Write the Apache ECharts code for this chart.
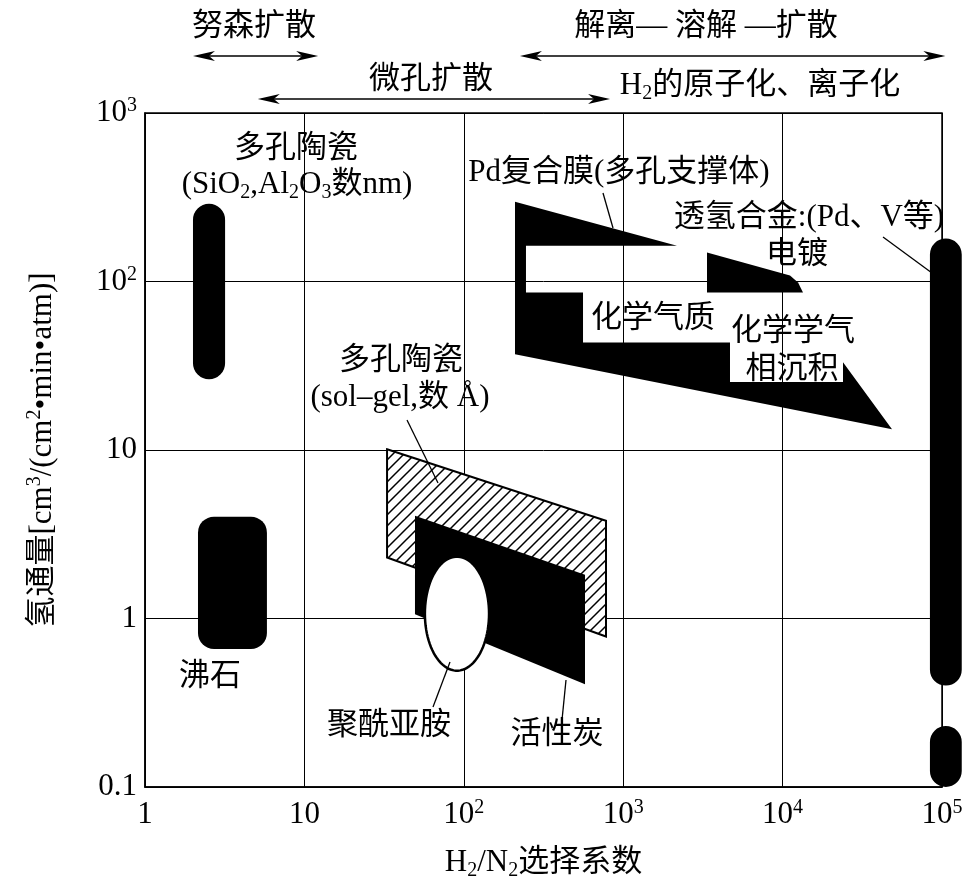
<!DOCTYPE html>
<html lang="zh">
<head>
<meta charset="UTF-8">
<title>H2/N2选择系数与氢通量</title>
<script src="https://cdn.jsdelivr.net/npm/echarts@6/dist/echarts.min.js"></script>
<style>
    html, body { margin: 0; padding: 0; background: #fff; }
    #chart { width: 979px; height: 886px; }
</style>
</head>
<body>
<div id="chart"></div>
<script>
// 坐标轴范围
const xTicks = [1, 10, 100, 1000, 10000, 100000];
const yTicks = [0.1, 1, 10, 100, 1000];

// 圆角块 [xMin, xMax, yMin, yMax]
const sio2Ceramic = [2.0, 3.18, 26.3, 289];
const zeolite = [2.15, 5.82, 0.66, 4.02];
const alloyMain = [84000, 133000, 0.40, 180];
const alloyLow = [84000, 133000, 0.1, 0.23];

// Pd复合膜 / 化学气相沉积 (带空白标签区的多边形)
const pdCompositeX = [209.5, 2175, 245.5, 245.5, 559.6, 559.6, 4677, 4677, 23930, 23930, 48570, 209.5];
const pdCompositeY = [297, 163, 163, 86, 86, 43.5, 43.5, 25.3, 25.3, 33.2, 13.3, 37.0];
// 电镀
const platingX = [3356, 11130, 12500, 13430, 3356];
const platingY = [148.5, 108.5, 98.6, 86, 86];
// 多孔陶瓷 sol-gel
const solGelX = [33.0, 780, 780, 33.0];
const solGelY = [10.1, 3.80, 0.782, 2.30];
// 活性炭
const carbonX = [49.4, 576, 576, 49.4];
const carbonY = [4.07, 1.82, 0.407, 1.06];
// 聚酰亚胺 (椭圆外框) [xMin, xMax, yMin, yMax]
const polyimide = [57, 144, 0.49, 2.33];

// 扩散机理范围 [xFrom, xTo]
const knudsenRange = [2.0, 12.2];
const microporeRange = [5.1, 827];
const solutionRange = [225, 105000];

const serif = '"Liberation Serif", "Noto Sans CJK SC", serif';

// 斜线填充
const hatch = document.createElement('canvas');
hatch.width = 11;
hatch.height = 11;
(function () {
    const ctx = hatch.getContext('2d');
    ctx.fillStyle = '#fff';
    ctx.fillRect(0, 0, 11, 11);
    ctx.strokeStyle = '#000';
    ctx.lineWidth = 1.5;
    ctx.beginPath();
    ctx.moveTo(0, 11); ctx.lineTo(11, 0);
    ctx.moveTo(-5.5, 5.5); ctx.lineTo(5.5, -5.5);
    ctx.moveTo(5.5, 16.5); ctx.lineTo(16.5, 5.5);
    ctx.stroke();
})();

const shapes = [
    { kind: 'box', box: sio2Ceramic, r: 'capsule' },
    { kind: 'box', box: zeolite, r: 16 },
    { kind: 'box', box: alloyMain, r: 'capsule' },
    { kind: 'box', box: alloyLow, r: 'capsule' },
    { kind: 'poly', xs: pdCompositeX, ys: pdCompositeY },
    { kind: 'poly', xs: platingX, ys: platingY },
    { kind: 'poly', xs: solGelX, ys: solGelY, hatch: true },
    { kind: 'poly', xs: carbonX, ys: carbonY },
    { kind: 'ellipse', box: polyimide }
];

function renderShape(params, api) {
    const s = shapes[api.value(2)];
    if (s.kind === 'box') {
        const p1 = api.coord([s.box[0], s.box[3]]);
        const p2 = api.coord([s.box[1], s.box[2]]);
        const w = p2[0] - p1[0];
        const h = p2[1] - p1[1];
        return {
            type: 'rect',
            shape: { x: p1[0], y: p1[1], width: w, height: h, r: s.r === 'capsule' ? w / 2 : s.r },
            style: { fill: '#000' }
        };
    }
    if (s.kind === 'poly') {
        const pts = s.xs.map((x, i) => api.coord([x, s.ys[i]]));
        return {
            type: 'polygon',
            shape: { points: pts },
            style: s.hatch
                ? { fill: { image: hatch, repeat: 'repeat' }, stroke: '#000', lineWidth: 2 }
                : { fill: '#000' }
        };
    }
    // 椭圆
    const a = api.coord([s.box[0], s.box[3]]);
    const b = api.coord([s.box[1], s.box[2]]);
    const cx = (a[0] + b[0]) / 2, cy = (a[1] + b[1]) / 2;
    const rx = (b[0] - a[0]) / 2, ry = (b[1] - a[1]) / 2;
    const pts = [];
    for (let i = 0; i < 90; i++) {
        const t = i / 90 * Math.PI * 2;
        pts.push([cx + rx * Math.cos(t), cy + ry * Math.sin(t)]);
    }
    return {
        type: 'polygon',
        shape: { points: pts },
        style: { fill: '#fff', stroke: '#000', lineWidth: 2.5 }
    };
}

const ranges = [
    { r: knudsenRange, dy: 57 },
    { r: microporeRange, dy: 14 },
    { r: solutionRange, dy: 57 }
];

function arrowHead(x, y, dir) {
    return {
        type: 'polygon',
        shape: { points: [[x, y], [x - dir * 22, y - 5], [x - dir * 16, y], [x - dir * 22, y + 5]] },
        style: { fill: '#000' }
    };
}

function renderRange(params, api) {
    const item = ranges[api.value(2)];
    const a = api.coord([item.r[0], 1000]);
    const b = api.coord([item.r[1], 1000]);
    const y = a[1] - item.dy;
    return {
        type: 'group',
        children: [
            { type: 'line', shape: { x1: a[0] + 4, y1: y, x2: b[0] - 4, y2: y }, style: { stroke: '#000', lineWidth: 1.5 } },
            arrowHead(a[0], y, -1),
            arrowHead(b[0], y, 1)
        ]
    };
}

function powLabel(v) {
    const e = Math.round(Math.log10(v));
    if (e === 0) return '{n|1}';
    if (e === 1) return '{n|10}';
    if (e === -1) return '{n|0.1}';
    return '{n|10}{p|' + e + '}';
}

const tickRich = {
    n: { fontFamily: serif, fontSize: 31, color: '#000', lineHeight: 34 },
    p: { fontFamily: serif, fontSize: 20, color: '#000', lineHeight: 20, verticalAlign: 'top' }
};

const cn = { fontFamily: serif, fontSize: 31, color: '#000', lineHeight: 36 };
const sub = { fontFamily: serif, fontSize: 20, color: '#000', lineHeight: 26, verticalAlign: 'bottom' };

function label(x, y, text) {
    return {
        type: 'text', x: x, y: y, z: 100,
        style: {
            text: text, align: 'center', verticalAlign: 'middle',
            fontFamily: serif, fontSize: 31, fill: '#000',
            rich: { t: cn, s: sub }
        }
    };
}

function leader(x1, y1, x2, y2) {
    return {
        type: 'line', z: 100,
        shape: { x1: x1, y1: y1, x2: x2, y2: y2 },
        style: { stroke: '#000', lineWidth: 1.3 }
    };
}

const myChart = echarts.init(document.getElementById('chart'));
const option = {
    backgroundColor: '#fff',
    animation: false,
    grid: { left: 145, right: 37, top: 113, bottom: 97, show: true, borderColor: '#000', borderWidth: 1.5 },
    xAxis: {
        type: 'log', logBase: 10,
        min: xTicks[0], max: xTicks[xTicks.length - 1],
        name: '{t|H}{s|2}{t|/N}{s|2}{t|选择系数}',
        nameLocation: 'middle', nameGap: 58,
        nameTextStyle: { rich: { t: cn, s: sub } },
        axisLine: { lineStyle: { color: '#000', width: 1.5 } },
        axisTick: { show: false },
        splitLine: { show: true, lineStyle: { color: '#000', width: 1 } },
        minorTick: { show: false },
        axisLabel: { margin: 11, formatter: powLabel, rich: tickRich }
    },
    yAxis: {
        type: 'log', logBase: 10,
        min: yTicks[0], max: yTicks[yTicks.length - 1],
        name: '{t|氢通量[cm}{p|3}{t|/(cm}{p|2}{t|•min•atm)]}',
        nameLocation: 'middle', nameGap: 84, nameRotate: 90,
        nameTextStyle: {
            rich: {
                t: cn,
                p: { fontFamily: serif, fontSize: 20, color: '#000', lineHeight: 24, verticalAlign: 'top' }
            }
        },
        axisLine: { lineStyle: { color: '#000', width: 1.5 } },
        axisTick: { show: false },
        splitLine: { show: true, lineStyle: { color: '#000', width: 1 } },
        axisLabel: { margin: 8, formatter: powLabel, rich: tickRich }
    },
    series: [
        {
            type: 'custom',
            name: '膜材料',
            renderItem: renderShape,
            clip: false,
            data: shapes.map((s, i) => [1, 1, i])
        },
        {
            type: 'custom',
            name: '扩散机理',
            renderItem: renderRange,
            clip: false,
            data: ranges.map((r, i) => [1, 1, i])
        }
    ],
    graphic: [
        label(254, 27, '努森扩散'),
        label(706, 27, '解离— 溶解 —扩散'),
        label(431, 80, '微孔扩散'),
        label(760, 86, '{t|H}{s|2}{t|的原子化、离子化}'),
        label(296, 149, '多孔陶瓷'),
        label(297, 185, '{t|(SiO}{s|2}{t|,Al}{s|2}{t|O}{s|3}{t|数nm)}'),
        label(619, 173, 'Pd复合膜(多孔支撑体)'),
        label(809, 218, '透氢合金:(Pd、V等)'),
        label(797, 255, '电镀'),
        label(653, 319, '化学气质'),
        label(793, 332, '化学学气'),
        label(792, 370, '相沉积'),
        label(401, 361, '多孔陶瓷'),
        label(400, 398, '(sol–gel,数 Å)'),
        label(210, 677, '沸石'),
        label(389, 726, '聚酰亚胺'),
        label(557, 735, '活性炭'),
        leader(603, 193, 613, 228),
        leader(883, 237, 932, 273),
        leader(407, 420, 438, 483),
        leader(433, 707, 450, 662),
        leader(562, 720, 566, 680)
    ]
};
myChart.setOption(option);
</script>
</body>
</html>
